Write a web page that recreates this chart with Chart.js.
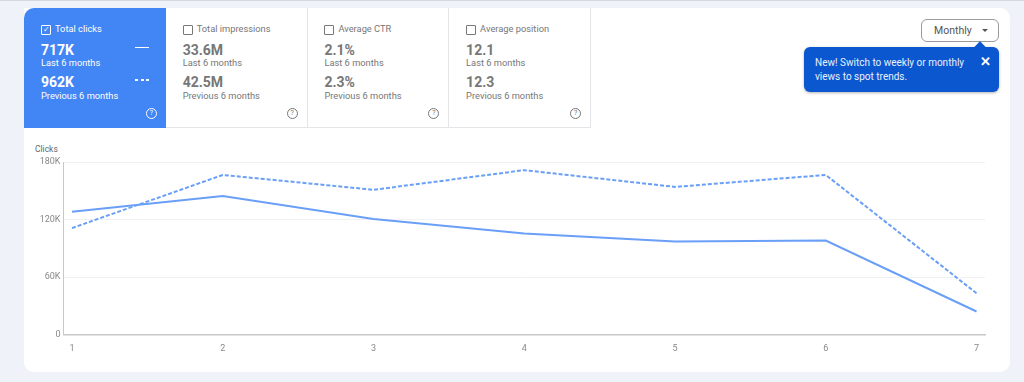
<!DOCTYPE html>
<html>
<head>
<meta charset="utf-8">
<script src="https://cdn.jsdelivr.net/npm/chart.js@4"></script>
<style>
html, body { margin: 0; padding: 0; }
body { width: 1024px; height: 382px; background: #eff3f9; overflow: hidden; position: relative; font-family: Roboto, sans-serif; border-top: 1px solid #d5d9e0; box-sizing: border-box; }
#card { position: absolute; left: 24px; top: 7px; width: 986px; height: 364px; background: #fff; border-radius: 0 10px 10px 10px; }
.tile { position: absolute; top: 0; width: 142px; height: 120px; box-sizing: border-box; border-right: 1px solid #e3e5e8; border-bottom: 1px solid #e3e5e8; color: #777; }
.tile.on { background: #4285f4; color: #fff; border: none; border-radius: 10px 0 0 0; }
.tile div { position: absolute; left: 17px; white-space: nowrap; }
.tile .box { left: 17px; top: 17px; width: 8px; height: 8px; border: 1px solid #777; border-radius: 1px; font-size: 8px; line-height: 8px; text-align: center; }
.tile.on .box { border-color: #fff; }
.tile .name { left: 31px; top: 14px; font-size: 9.3px; line-height: 13px; }
.tile .big { font-size: 14px; font-weight: 700; line-height: 18px; }
.tile .small { font-size: 9.3px; line-height: 13px; }
.tile .help { left: auto; right: 9px; top: 100px; width: 9px; height: 9px; border: 1px solid currentColor; border-radius: 50%; font-size: 7px; line-height: 9px; text-align: center; }
.mark { left: auto !important; right: 17px; width: 14px; border-top: 1.5px solid #fff; }
.mark.dash { border-top: none; height: 1.5px; background: repeating-linear-gradient(90deg, #fff 0 3px, transparent 3px 5.5px); }
#monthly { position: absolute; left: 921px; top: 18px; width: 78px; height: 23px; box-sizing: border-box; border: 1px solid #9a9a9a; border-radius: 6px; background: #fff; color: #555; font-size: 10.5px; line-height: 21px; padding-left: 12px; }
#monthly span { position: absolute; left: 60px; top: 9px; border: 3px solid transparent; border-top: 3px solid #555; }
#tip { position: absolute; left: 804px; top: 46px; width: 195px; height: 45px; background: #0b57d0; border-radius: 6px; color: #e8f0fe; font-size: 10px; line-height: 14px; box-sizing: border-box; padding: 9px 11px; box-shadow: 0 1px 3px rgba(0,0,0,.3); }
#tip:before { content: ""; position: absolute; left: 172px; top: -4px; width: 8px; height: 8px; background: #0b57d0; transform: rotate(45deg); }
#tip b { position: absolute; right: 8px; top: 7px; font-size: 13px; line-height: 15px; font-weight: 700; color: #fff; }
#ylabel { position: absolute; left: 35px; top: 143px; font-size: 8.5px; color: #666; }
#wrap { position: absolute; left: 24px; top: 149px; width: 986px; height: 210px; }
</style>
</head>
<body>
<div id="card"></div>
<div id="tiles"></div>
<div id="monthly">Monthly<span></span></div>
<div id="tip">New! Switch to weekly or monthly<br>views to spot trends.<b>✕</b></div>
<div id="ylabel">Clicks</div>
<div id="wrap"><canvas id="chart" width="986" height="210"></canvas></div>
<script>
// values
const categories = [1, 2, 3, 4, 5, 6, 7];
const last6 = [128000, 144500, 120500, 105500, 97000, 98000, 24000];
const prev6 = [111000, 166500, 151000, 171500, 154000, 166500, 43000];
const yTicks = [0, 60000, 120000, 180000];

const tileNames = ['Total clicks', 'Total impressions', 'Average CTR', 'Average position'];
const tileLast = ['717K', '33.6M', '2.1%', '12.1'];
const tilePrev = ['962K', '42.5M', '2.3%', '12.3'];

var html = '';
tileNames.forEach((name, i) => {
    html += '<div class="tile' + (i == 0 ? ' on' : '') + '" style="left:' + (24 + i * 141.7) + 'px;top:7px">'
        + '<div class="box">' + (i == 0 ? '✓' : '') + '</div><div class="name">' + name + '</div>'
        + '<div class="big" style="top:33px">' + tileLast[i] + '</div>'
        + '<div class="small" style="top:48px">Last 6 months</div>'
        + '<div class="big" style="top:65px">' + tilePrev[i] + '</div>'
        + '<div class="small" style="top:81px">Previous 6 months</div>'
        + (i == 0 ? '<div class="mark" style="top:39px"></div><div class="mark dash" style="top:71px"></div>' : '')
        + '<div class="help">?</div></div>';
});
document.getElementById('tiles').innerHTML = html;

const lineColor = '#6a9ff8';

new Chart(document.getElementById('chart'), {
    type: 'line',
    data: {
        datasets: [
            { label: 'Last 6 months', data: categories.map((c, i) => ({ x: c, y: last6[i] })), borderColor: lineColor, borderWidth: 2, pointRadius: 0, tension: 0 },
            { label: 'Previous 6 months', data: categories.map((c, i) => ({ x: c, y: prev6[i] })), borderColor: lineColor, borderWidth: 2, borderDash: [4, 2], pointRadius: 0, tension: 0 }
        ]
    },
    options: {
        responsive: false,
        animation: false,
        layout: { padding: { top: 12, right: 25, bottom: 0, left: 0 } },
        plugins: { legend: { display: false }, tooltip: { enabled: false } },
        scales: {
            x: {
                type: 'linear',
                min: 0.944,
                max: 7.056,
                afterBuildTicks: s => { s.ticks = categories.map(v => ({ value: v })); },
                afterFit: s => { s.height = 25.5; },
                grid: { display: false, drawTicks: false },
                border: { color: '#c8c8c8', width: 1.5 },
                ticks: { color: '#888', font: { family: 'Roboto', size: 9 }, maxRotation: 0, padding: 9 }
            },
            y: {
                min: 0,
                max: 180000,
                afterBuildTicks: s => { s.ticks = yTicks.map(v => ({ value: v })); },
                afterFit: s => { s.width = 39.5; },
                grid: { color: '#f1f1f1', drawTicks: false },
                border: { color: '#c8c8c8', width: 1 },
                ticks: { color: '#888', font: { family: 'Roboto', size: 9 }, padding: 3, callback: v => v == 0 ? '0' : (v / 1000) + 'K' }
            }
        }
    }
});
</script>
</body>
</html>
